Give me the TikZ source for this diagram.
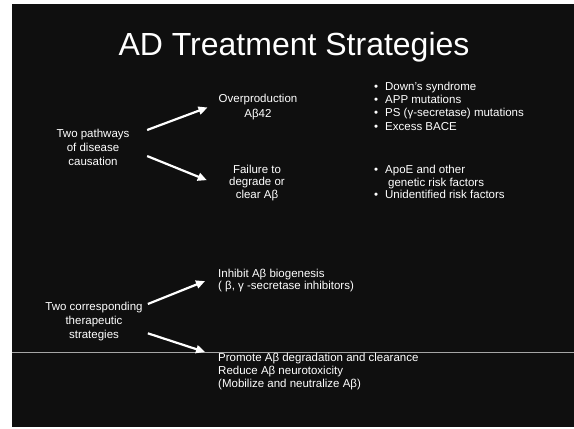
\documentclass[tikz,border=0pt]{standalone}
\usepackage{fontspec}
\setmainfont{Liberation Sans}
\usetikzlibrary{arrows.meta}
\begin{document}
\begin{tikzpicture}[x=1pt,y=-1pt,
  txt/.style={text=white, inner sep=0pt},
  fs/.style={font=\fontsize{11.5}{#1}\selectfont},
  arr/.style={draw=white, line width=2.2pt, -{Triangle[length=9pt,width=8pt]}}]
\useasboundingbox (0,0) rectangle (574,429);
\fill[white] (0,0) rectangle (574,429);
\fill[black!94!white] (12,4) rectangle (574,427);
\draw[gray!70, line width=0.8pt] (12,352.5) -- (574,352.5);
% title
\node[txt, font=\fontsize{32}{36}\selectfont, anchor=base] (title) at (294,55) {AD Treatment Strategies};
% causation
\node[txt, fs=14, align=center, anchor=north] (L1) at (93,129.2) {Two pathways\\of disease\\causation};
\node[txt, fs=15, align=center, anchor=north] (O1) at (258,94.4) {Overproduction\\Aβ42};
\node[txt, fs=12.7, align=center, anchor=north] (F1) at (257,164.7) {Failure to\\degrade or\\clear Aβ};
\node[txt, fs=13.3, align=left, anchor=north west] (R1) at (374,81.7)
  {\makebox[11pt][l]{•}Down’s syndrome\\\makebox[11pt][l]{•}APP mutations\\\makebox[11pt][l]{•}PS (γ-secretase) mutations\\\makebox[11pt][l]{•}Excess BACE};
\node[txt, fs=12.6, align=left, anchor=north west] (R2) at (374,165)
  {\makebox[11pt][l]{•}ApoE and other\\\hspace*{14pt}genetic risk factors\\\makebox[11pt][l]{•}Unidentified risk factors};
% therapeutics
\node[txt, fs=14, align=center, anchor=north] (L2) at (94,301.7) {Two corresponding\\therapeutic\\strategies};
\node[txt, fs=11.5, align=left, anchor=north west] (I1) at (218,269) {Inhibit Aβ biogenesis\\( β, γ -secretase inhibitors)};
\node[txt, fs=13, align=left, anchor=north west] (P1) at (218,352.7) {Promote Aβ degradation and clearance\\Reduce Aβ neurotoxicity\\(Mobilize and neutralize Aβ)};
% arrows
\draw[arr] ([shift={(17.5,0.8)}]L1.north east) -- ([shift={(-11,0)}]O1.west);
\draw[arr] ([shift={(17.5,-10)}]L1.south east) -- ([shift={(-22.2,-2.8)}]F1.west);
\draw[arr] ([shift={(5.1,2.3)}]L2.north east) -- ([shift={(-13,0.8)}]I1.west);
\draw[arr] ([shift={(5.1,-7.5)}]L2.south east) -- ([shift={(-13,-0.7)}]P1.north west);
\end{tikzpicture}
\end{document}
